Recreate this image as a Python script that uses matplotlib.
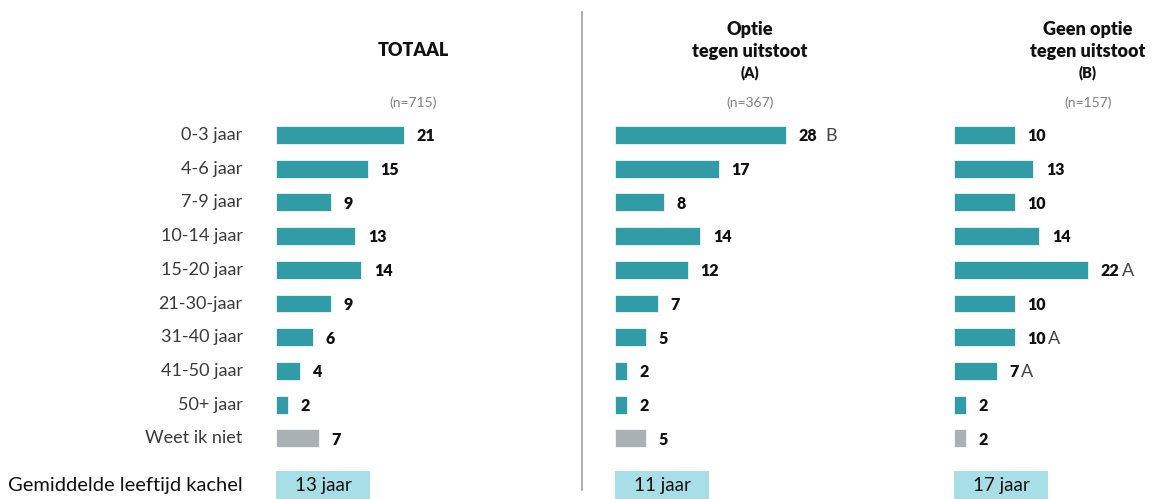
import matplotlib.pyplot as plt

categories = ["0-3 jaar", "4-6 jaar", "7-9 jaar", "10-14 jaar", "15-20 jaar",
              "21-30-jaar", "31-40 jaar", "41-50 jaar", "50+ jaar", "Weet ik niet"]
totaal = [21, 15, 9, 13, 14, 9, 6, 4, 2, 7]
optie_a = [28, 17, 8, 14, 12, 7, 5, 2, 2, 5]
geen_b = [10, 13, 10, 14, 22, 10, 10, 7, 2, 2]
sig_a = ["B", "", "", "", "", "", "", "", "", ""]
sig_b = ["", "", "", "", "A", "", "A", "A", "", ""]
sig_t = [""] * 10
titles = ["TOTAAL", "Optie\ntegen uitstoot\n(A)", "Geen optie\ntegen uitstoot\n(B)"]
n_labels = ["(n=715)", "(n=367)", "(n=157)"]
avg_values = [13, 11, 17]
avg_label = "Gemiddelde leeftijd kachel"

TEAL = "#329CA6"
GRAY = "#A9B1B5"
AVG = "#A8DEE6"
FONT = "Lato"

W, H = 1155, 499
fig = plt.figure(figsize=(W / 100, H / 100), dpi=100)

px_per_unit = 6.1
row0, row_step = 135, 33.7
top_px = row0 - 0.5 * row_step
y_bottom = (H - row0) / row_step
axes_h = (H - top_px) / H
avg_row = 10.4

col_x = [276, 615, 954]
col_w = 190
title_cx = [413, 750, 1088]
n_cx = [413, 750, 1088]
series = [totaal, optie_a, geen_b]
sigs = [sig_t, sig_a, sig_b]

for c in range(3):
    ax = fig.add_axes([col_x[c] / W, 0, col_w / W, axes_h])
    ax.set_xlim(0, col_w / px_per_unit)
    ax.set_ylim(y_bottom, -0.5)
    ax.axis("off")
    vals = series[c]
    ys = list(range(len(categories)))
    colors = [TEAL] * (len(categories) - 1) + [GRAY]
    ax.barh(ys, vals, height=0.53, color=colors, edgecolor="white", linewidth=0.5)
    texts = []
    for y, v in zip(ys, vals):
        t = ax.annotate(str(v), (v, y), xytext=(9, -1), textcoords="offset points",
                        ha="left", va="center", fontsize=11.5, fontweight="heavy",
                        family=FONT, color="#111111")
        texts.append(t)
    fig.canvas.draw()
    r = fig.canvas.get_renderer()
    for t, s in zip(texts, sigs[c]):
        if s:
            bb = t.get_window_extent(r)
            gap = 8 if c == 1 else 2
            fig.text((bb.x1 + gap) / W, (bb.y0 + bb.y1) / 2 / H, s, ha="left", va="center",
                     fontsize=13, family=FONT, fontweight="normal", color="#444444")
    # average box
    box_units = 94 / px_per_unit
    ax.barh([avg_row], [box_units], height=0.83, color=AVG)
    ax.text(box_units / 2, avg_row, f"{avg_values[c]} jaar", ha="center", va="center",
            fontsize=13.5, family=FONT, fontweight="normal", color="#111111")
    if c == 0:
        for y, lab in zip(ys, categories):
            ax.annotate(lab, (0, y), xytext=(-24, 0), textcoords="offset points",
                        ha="right", va="center", fontsize=13, family=FONT,
                        fontweight="normal", color="#3A3A3A", annotation_clip=False)
        ax.annotate(avg_label, (0, avg_row), xytext=(-24, 0), textcoords="offset points",
                    ha="right", va="center", fontsize=14.5, family=FONT,
                    fontweight="normal", color="#111111", annotation_clip=False)

# titles
fig.text(title_cx[0] / W, 1 - 50 / H, titles[0], ha="center", va="center",
         fontsize=13, fontweight="heavy", family=FONT, color="#111111")
for c in (1, 2):
    lines = titles[c].split("\n")
    fig.text(title_cx[c] / W, 1 - 29 / H, lines[0], ha="center", va="center",
             fontsize=13, fontweight="heavy", family=FONT, color="#111111")
    fig.text(title_cx[c] / W, 1 - 52 / H, lines[1], ha="center", va="center",
             fontsize=13, fontweight="heavy", family=FONT, color="#111111")
    fig.text(title_cx[c] / W, 1 - 73 / H, lines[2], ha="center", va="center",
             fontsize=10.5, fontweight="heavy", family=FONT, color="#111111")
for c in range(3):
    fig.text(n_cx[c] / W, 1 - 103 / H, n_labels[c], ha="center", va="center",
             fontsize=10, family=FONT, fontweight="normal", color="#808080")

# separator
fig.add_artist(plt.Line2D([582 / W, 582 / W], [1 - 12 / H, 1 - 490 / H],
                          transform=fig.transFigure, color="#A0A0A0", linewidth=1.2))

fig.savefig("out.png", dpi=100)
